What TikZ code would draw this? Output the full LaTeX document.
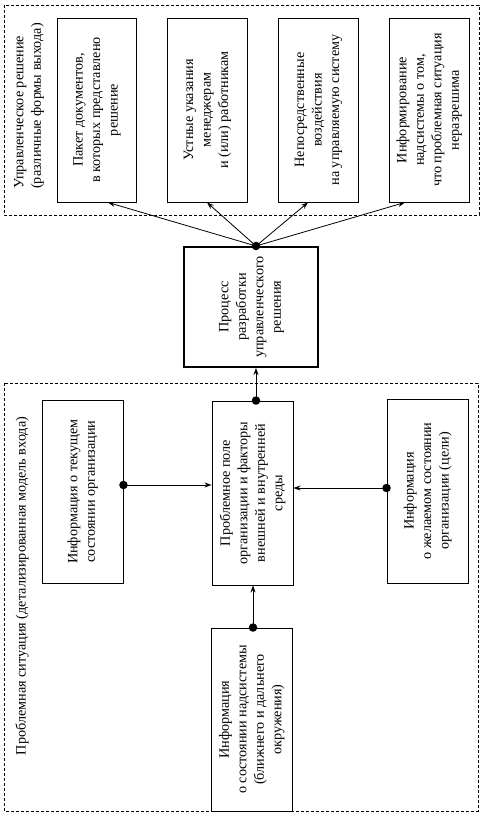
\documentclass[tikz,border=0pt]{standalone}
\usepackage{fontspec}
\setmainfont{Liberation Serif}
\usepackage{graphicx}
\usetikzlibrary{arrows.meta,calc}
\newcommand{\rtext}[1]{\rotatebox{90}{\begin{tabular}{@{}c@{}}#1\end{tabular}}}
\begin{document}
\begin{tikzpicture}[x=1pt,y=-1pt,
  font=\fontsize{14.2}{17.5}\selectfont,
  box/.style={draw,line width=0.9pt,inner sep=0pt},
  procbox/.style={draw,line width=2pt,inner sep=0pt},
  group/.style={draw,line width=0.8pt,dash pattern=on 3pt off 2pt},
  arr/.style={line width=0.8pt,-{Stealth[length=7pt,width=5pt]}},
  dot/.style={circle,fill,inner sep=0pt,minimum size=8.5pt}]
\useasboundingbox (0,0) rectangle (483,818);
% groups
\draw[group] (4,5) rectangle (479,215);
\draw[group] (4,383) rectangle (478,811);
\node[rotate=90,align=left,inner sep=0pt] (lblout) at (29,106) {Управленческое решение\\(различные формы выхода)};
\node[rotate=90,inner sep=0pt] (lblin) at (22,586) {Проблемная ситуация (детализированная модель входа)};
% output boxes
\node[box,minimum width=79pt,minimum height=184pt] (b1) at (96.5,110) {\rtext{Пакет документов,\\в которых представлено\\решение}};
\node[box,minimum width=80pt,minimum height=184pt] (b2) at (207,110) {\rtext{Устные указания\\менеджерам\\и (или) работникам}};
\node[box,minimum width=80pt,minimum height=184pt] (b3) at (318,110) {\rtext{Непосредственные\\воздействия\\на управляемую систему}};
\node[box,minimum width=80pt,minimum height=184pt] (b4) at (429,110) {\rtext{Информирование\\надсистемы о том,\\что проблемная ситуация\\неразрешима}};
% process
\node[procbox,minimum width=134pt,minimum height=120pt] (proc) at (251,307) {\rtext{Процесс\\разработки\\управленческого\\решения}};
% input boxes
\node[box,minimum width=81pt,minimum height=183pt] (cur) at (82.5,491.5) {\rtext{Информация о текущем\\состоянии организации}};
\node[box,minimum width=81pt,minimum height=184pt] (mid) at (252.5,493) {\rtext{Проблемное поле\\организации и факторы\\внешней и внутренней\\среды}};
\node[box,minimum width=81pt,minimum height=184pt] (goal) at (427.5,491) {\rtext{Информация\\о желаемом состоянии\\организации (цели)}};
\node[box,minimum width=81pt,minimum height=183pt] (env) at (251.5,719.5) {\rtext{Информация\\о состоянии надсистемы\\(ближнего и дальнего\\окружения)}};
% connector points
\coordinate (pt) at ([xshift=5pt]proc.north);
\coordinate (mt) at ([xshift=3.5pt]mid.north);
\coordinate (et) at ([xshift=1.5pt]env.north);
\coordinate (ce) at ([yshift=6.5pt]cur.east);
\coordinate (gw) at ([yshift=3pt]goal.west);
% connectors
\draw[arr] (pt) -- ([xshift=11.5pt]b1.south);
\draw[arr] (pt) -- (b2.south);
\draw[arr] (pt) -- ([xshift=-10pt]b3.south);
\draw[arr] (pt) -- ([xshift=-24pt]b4.south);
\draw[arr] (mt) -- (mt |- proc.south);
\draw[arr] (ce) -- (ce -| mid.west);
\draw[arr] (gw) -- (gw -| mid.east);
\draw[arr] (et) -- (et |- mid.south);
% dots
\node[dot] (d1) at (pt) {};
\node[dot] (d2) at (mt) {};
\node[dot] (d3) at (et) {};
\node[dot] (d4) at (ce) {};
\node[dot] (d5) at (gw) {};
\end{tikzpicture}
\end{document}
